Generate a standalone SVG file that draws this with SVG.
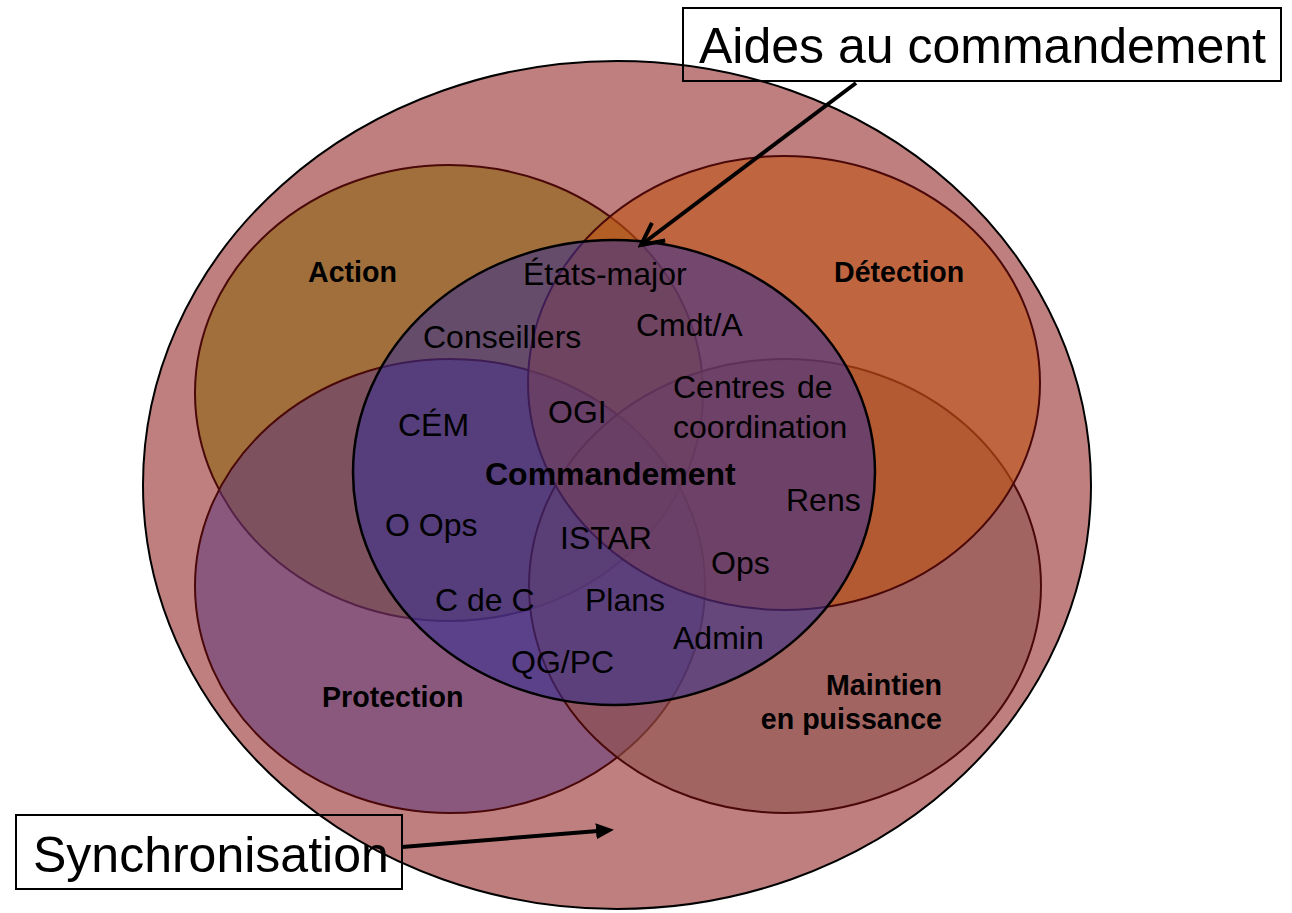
<svg xmlns="http://www.w3.org/2000/svg" width="1292" height="913" viewBox="0 0 1292 913">
<style>
.sub{stroke:#4a0808;stroke-width:2}
.lbl{font-family:"Liberation Sans",Arial,sans-serif;font-size:32px;fill:#000}
.bold{font-family:"Liberation Sans",Arial,sans-serif;font-weight:bold;font-size:28.6px;fill:#000}
.call{font-family:"Liberation Sans",Arial,sans-serif;font-size:50px;fill:#000}
.box{fill:none;stroke:#000;stroke-width:2}
.conn{stroke:#000;stroke-width:4;fill:none}
</style>
<defs>
<marker id="openArrow" markerUnits="userSpaceOnUse" markerWidth="32" markerHeight="32" viewBox="0 0 32 32" refX="28" refY="16" orient="auto">
<path d="M6,5 L28,16 L6,27" fill="none" stroke="#000" stroke-width="4"/>
</marker>
<marker id="solidArrow" markerUnits="userSpaceOnUse" markerWidth="22" markerHeight="18" viewBox="0 0 22 18" refX="2" refY="9" orient="auto">
<path d="M0,1 L18,9 L0,17 z" fill="#000"/>
</marker>
</defs>
<rect width="1292" height="913" fill="#fff"/>
<g id="synchronisation-area">
<ellipse cx="617" cy="485" rx="474" ry="424" fill="#BF7F7F" stroke="#000" stroke-width="2"/>
</g>
<g id="action">
<ellipse class="sub" cx="449" cy="393" rx="254" ry="228" fill="#986C2B" fill-opacity="0.8"/>
<text class="bold" x="308" y="282">Action</text>
</g>
<g id="protection">
<ellipse class="sub" cx="450" cy="586" rx="255" ry="227" fill="#60387C" fill-opacity="0.55"/>
<text class="bold" x="322" y="707">Protection</text>
</g>
<g id="maintien">
<ellipse class="sub" cx="785" cy="586" rx="256" ry="227" fill="#90524B" fill-opacity="0.6"/>
<text class="bold" x="942" y="695" text-anchor="end">Maintien</text>
<text class="bold" x="942" y="729" text-anchor="end">en puissance</text>
</g>
<g id="detection">
<ellipse class="sub" cx="784" cy="383" rx="256" ry="227" fill="#BF5416" fill-opacity="0.6"/>
<text class="bold" x="834" y="282">Détection</text>
</g>
<g id="commandement">
<ellipse cx="614" cy="472.5" rx="261" ry="232.5" fill="#352F93" fill-opacity="0.55" stroke="#000" stroke-width="2.5"/>
<text class="bold" x="485" y="485" style="font-size:32px">Commandement</text>
<text class="lbl" x="523" y="285">États-major</text>
<text class="lbl" x="636" y="336">Cmdt/A</text>
<text class="lbl" x="423" y="348">Conseillers</text>
<text class="lbl" x="673" y="398" word-spacing="3">Centres de</text>
<text class="lbl" x="673" y="438">coordination</text>
<text class="lbl" x="398" y="436">CÉM</text>
<text class="lbl" x="548" y="423">OGI</text>
<text class="lbl" x="786" y="511">Rens</text>
<text class="lbl" x="385" y="536">O Ops</text>
<text class="lbl" x="560" y="549">ISTAR</text>
<text class="lbl" x="711" y="574">Ops</text>
<text class="lbl" x="435" y="611">C de C</text>
<text class="lbl" x="585" y="611">Plans</text>
<text class="lbl" x="673" y="649">Admin</text>
<text class="lbl" x="511" y="673">QG/PC</text>
</g>
<g id="callout-aides">
<rect class="box" x="683" y="8" width="598" height="73"/>
<text class="call" x="699" y="63">Aides au commandement</text>
</g>
<g id="callout-synchronisation">
<rect class="box" x="16" y="815" width="386" height="74"/>
<text class="call" x="33" y="872">Synchronisation</text>
</g>
<g id="connectors">
<line class="conn" x1="856" y1="83" x2="641" y2="245" marker-end="url(#openArrow)"/>
<line class="conn" x1="402" y1="847" x2="598" y2="831" marker-end="url(#solidArrow)"/>
</g>
</svg>
